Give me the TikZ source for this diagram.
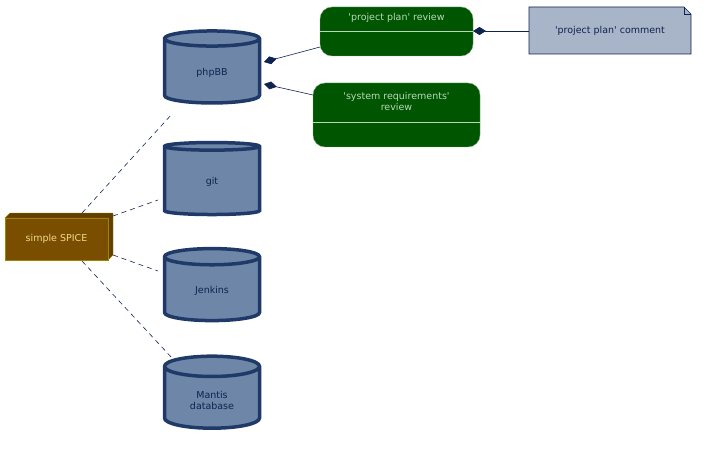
\documentclass[tikz,border=0pt]{standalone}
\usepackage{fontspec}
\setmainfont{DejaVu Sans}
\usetikzlibrary{shapes.geometric,shapes.misc,arrows.meta}
\definecolor{dbfill}{HTML}{6E86A8}
\definecolor{dbline}{HTML}{1F3A68}
\definecolor{revfill}{HTML}{005500}
\definecolor{revtext}{HTML}{B8D8B8}
\definecolor{boxfill}{HTML}{7A4E00}
\definecolor{boxtext}{HTML}{F0D890}
\definecolor{notefill}{HTML}{A8B4C8}
\definecolor{ink}{HTML}{0F2350}
\newcommand{\q}{\textquotesingle}
\begin{document}
\begin{tikzpicture}[x=1pt,y=-1pt,font=\fontsize{9.5}{11}\selectfont,
  db node/.style={cylinder,shape border rotate=90,aspect=0.4,draw=dbline,line width=3.5pt,fill=dbfill,text=ink,minimum width=95pt,minimum height=72pt,align=center},
  link/.style={dash pattern=on 5pt off 4pt,semithick,ink},
  own/.style={{Diamond[length=13pt,width=8pt]}-,semithick,ink}]
  \useasboundingbox (0,0) rectangle (708,449);
  % databases
  \node[db node] (php) at (212,73) {phpBB};
  \node[db node] (git) at (212,182) {git};
  \node[db node] (jen) at (212,291) {Jenkins};
  \node[db node] (man) at (212,400) {Mantis\\database};
  % package
  \fill[boxfill!80!black,draw=boxfill!70!yellow] (5,218) -- (10,213) -- (113,213) -- (113,255) -- (108,260) -- (108,218) -- cycle;
  \node[draw=boxfill!70!yellow,fill=boxfill,text=boxtext,minimum width=103pt,minimum height=42pt,inner sep=0pt] (spice) at (56.5,239) {simple SPICE};
  % reviews
  \draw[revtext!60!revfill,fill=revfill,rounded corners=12pt] (320,7) rectangle (473,56);
  \draw[revtext] (320,31) -- (473,31);
  \node[text=revtext] (rev1) at (396.5,18) {\q project plan\q{} review};
  \coordinate (rev1w) at (320,47);
  \coordinate (rev1e) at (473,31);
  \draw[revtext!60!revfill,fill=revfill,rounded corners=12pt] (313,83) rectangle (480,147);
  \draw[revtext] (313,122) -- (480,122);
  \node[text=revtext,align=center] (rev2) at (396.5,101) {\q system requirements\q\\review};
  \coordinate (rev2w) at (313,95);
  % note
  \draw[ink,semithick,fill=notefill] (529,7) -- (684,7) -- (691,14) -- (691,54) -- (529,54) -- cycle;
  \draw[ink] (684,7) -- (684,14) -- (691,14);
  \node[text=ink] (note) at (610,31) {\q project plan\q{} comment};
  \coordinate (notew) at (529,31);
  % links
  \draw[link] (82,213) -- (172,114);
  \draw[link] (113,216) -- (158,200);
  \draw[link] (113,255) -- (158,271);
  \draw[link] (82,261) -- (172,358);
  \draw[own] (264,62) -- (rev1w);
  \draw[own] (264,84) -- (rev2w);
  \draw[own] (rev1e) -- (notew);
\end{tikzpicture}
\end{document}
